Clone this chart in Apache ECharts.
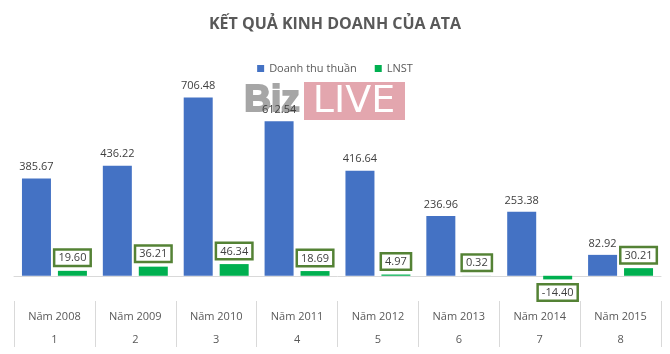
<!DOCTYPE html>
<html>
<head>
<meta charset="utf-8">
<script src="https://cdn.jsdelivr.net/npm/echarts@6/dist/echarts.min.js"></script>
<style>
  html, body { margin: 0; padding: 0; background: #fff; }
  #main { width: 670px; height: 354px; }
</style>
</head>
<body>
<div id="main"></div>
<script>
var years = ['Năm 2008', 'Năm 2009', 'Năm 2010', 'Năm 2011', 'Năm 2012', 'Năm 2013', 'Năm 2014', 'Năm 2015'];
var indexes = ['1', '2', '3', '4', '5', '6', '7', '8'];
var doanhThu = [385.67, 436.22, 706.48, 612.54, 416.64, 236.96, 253.38, 82.92];
var lnst = [19.60, 36.21, 46.34, 18.69, 4.97, 0.32, -14.40, 30.21];

var chart = echarts.init(document.getElementById('main'));
var font = 'Open Sans';

// nhãn của giá trị âm đặt bên dưới cột
var lnstData = lnst.map(function (v) {
    if (v < 0) return { value: v, label: { position: 'bottom' } };
    return v;
});

var option = {
    animation: false,
    textStyle: { fontFamily: font },
    title: {
        text: 'KẾT QUẢ KINH DOANH CỦA ATA',
        left: 'center',
        top: 11,
        textStyle: { fontSize: 16, fontWeight: 'bold', color: '#595959', fontFamily: font }
    },
    legend: {
        top: 58,
        left: 'center',
        icon: 'rect',
        itemWidth: 7,
        itemHeight: 7,
        itemGap: 18,
        textStyle: { fontSize: 11, color: '#595959', fontFamily: font },
        data: ['Doanh thu thuần', 'LNST']
    },
    graphic: [
        {
            type: 'group',
            z: 0,
            children: [
                { type: 'rect', shape: { x: 304, y: 82, width: 101, height: 38 }, style: { fill: '#e3a6ae' } },
                { type: 'text', style: { text: 'LIVE', x: 354, y: 102, align: 'center', verticalAlign: 'middle', fill: '#fff', fontSize: 38, fontFamily: 'DejaVu Sans' } },
                { type: 'text', style: { text: 'Biz', x: 272, y: 101, align: 'center', verticalAlign: 'middle', fill: '#a6a6a6', stroke: '#a6a6a6', lineWidth: 2, fontSize: 37, fontWeight: 'bold', fontFamily: 'Liberation Sans' } }
            ]
        }
    ],
    grid: { left: 14, right: 9, top: 74, bottom: 53, containLabel: false },
    xAxis: [
        {
            type: 'category',
            data: years,
            position: 'bottom',
            axisLine: { onZero: true, lineStyle: { color: '#d9d9d9' } },
            axisTick: { show: false },
            axisLabel: { show: false }
        },
        {
            type: 'category',
            data: years,
            position: 'bottom',
            axisLine: { show: false, onZero: false },
            axisTick: { show: true, interval: 0, length: 46, lineStyle: { color: '#d9d9d9' } },
            axisLabel: {
                interval: 0,
                margin: 4,
                lineHeight: 23,
                fontSize: 11,
                color: '#595959',
                formatter: function (v, i) { return v + '\n' + indexes[i]; }
            }
        }
    ],
    yAxis: {
        type: 'value',
        min: -100,
        max: 800,
        show: false,
        splitLine: { show: false }
    },
    series: [
        {
            name: 'Doanh thu thuần',
            type: 'bar',
            xAxisIndex: 0,
            data: doanhThu,
            barWidth: 29,
            barGap: '24%',
            itemStyle: { color: '#4472c4' },
            label: {
                show: true,
                position: 'top',
                distance: 6,
                fontSize: 11,
                color: '#404040',
                formatter: function (p) { return p.value.toFixed(2); }
            }
        },
        {
            name: 'LNST',
            type: 'bar',
            xAxisIndex: 0,
            data: lnstData,
            barWidth: 29,
            barGap: '24%',
            itemStyle: { color: '#00b050' },
            label: {
                show: true,
                position: 'top',
                distance: 6,
                fontSize: 11,
                color: '#404040',
                backgroundColor: '#fff',
                borderColor: '#548235',
                borderWidth: 2.5,
                padding: [2, 3, 1, 3],
                formatter: function (p) { return p.value.toFixed(2); }
            }
        }
    ]
};

chart.setOption(option);
</script>
</body>
</html>
